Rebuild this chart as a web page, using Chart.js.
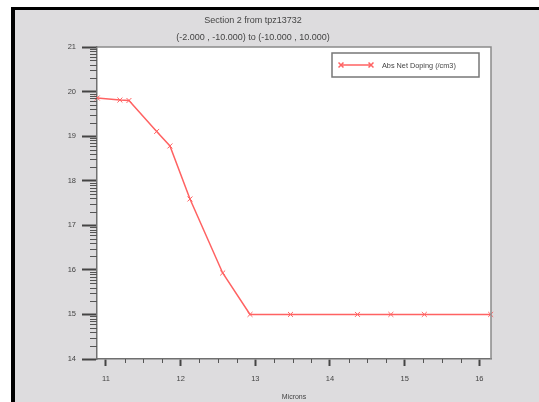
<!DOCTYPE html>
<html lang="en">
<head>
<meta charset="UTF-8">
<title>Section 2 from tpz13732</title>
<script src="https://cdn.jsdelivr.net/npm/chart.js"></script>
<style>
    body {
        margin: 0;
        background: #fff;
    }

    #frame {
        position: absolute;
        left: 11px;
        top: 7px;
        width: 524px;
        height: 392px;
        border-left: 4px solid #000;
        border-top: 3px solid #000;
        background: #dddcde;
    }

    canvas {
        display: block;
    }
</style>
</head>
<body>
<div id="frame"><canvas id="dopingChart" width="524" height="392"></canvas></div>

<script>
    // cut line position (microns) and log10 of |net doping|
    const microns = [10.883, 11.187, 11.308, 11.679, 11.857, 12.125, 12.563, 12.929, 13.471, 14.368, 14.815, 15.263, 16.152];
    const logDoping = [19.856, 19.81, 19.80, 19.106, 18.78, 17.59, 15.93, 15.0, 15.0, 15.0, 15.0, 15.0, 15.0];

    const xTicks = [11, 12, 13, 14, 15, 16];
    const xMinorSteps = [0.25, 0.5, 0.75];
    const yTicks = [14, 15, 16, 17, 18, 19, 20, 21];
    const yMinorSteps = [2, 3, 4, 5, 6, 7, 8, 9]; // log decade subdivisions

    const seriesLabel = 'Abs Net Doping (/cm3)';
    const FONT = "'Liberation Sans', Arial, sans-serif";
    const TEXT = '#444';
    const RED = '#ff6262';

    // white plot area + grey top/right edge
    const plotFrame = {
        id: 'plotFrame',
        beforeDraw(chart) {
            const { ctx, chartArea: a } = chart;
            ctx.save();
            ctx.fillStyle = '#fff';
            ctx.fillRect(a.left, a.top, a.right - a.left, a.bottom - a.top);
            ctx.restore();
        },
        afterDraw(chart) {
            const { ctx, chartArea: a } = chart;
            ctx.save();
            ctx.strokeStyle = '#8a8a8a';
            ctx.lineWidth = 1.5;
            ctx.beginPath();
            ctx.moveTo(a.left, a.top);
            ctx.lineTo(a.right, a.top);
            ctx.lineTo(a.right, a.bottom);
            ctx.stroke();
            ctx.restore();
        }
    };

    // short minor tick marks on both axes
    const minorTicks = {
        id: 'minorTicks',
        afterDraw(chart) {
            const { ctx, chartArea: a } = chart;
            const xs = chart.scales.x, ys = chart.scales.y;
            ctx.save();
            ctx.strokeStyle = '#555';
            ctx.lineWidth = 1;
            ctx.beginPath();
            xTicks.forEach(t => {
                xMinorSteps.forEach(s => {
                    const v = t + s;
                    if (v > xs.max) return;
                    const px = Math.round(xs.getPixelForValue(v)) + 0.5;
                    ctx.moveTo(px, a.bottom);
                    ctx.lineTo(px, a.bottom + 4);
                });
            });
            yTicks.slice(0, -1).forEach(t => {
                yMinorSteps.forEach(k => {
                    const py = Math.round(ys.getPixelForValue(t + Math.log10(k))) + 0.5;
                    ctx.moveTo(a.left - 7, py);
                    ctx.lineTo(a.left, py);
                });
            });
            ctx.stroke();
            ctx.restore();
        }
    };

    // boxed legend in the top right corner of the plot
    const boxLegend = {
        id: 'boxLegend',
        afterDraw(chart) {
            const { ctx, chartArea: a } = chart;
            const ds = chart.data.datasets[0];
            const w = 147, h = 24;
            const x0 = a.right - 12 - w, y0 = a.top + 6;
            const cy = y0 + h / 2;
            ctx.save();
            ctx.fillStyle = '#fff';
            ctx.fillRect(x0, y0, w, h);
            ctx.strokeStyle = '#777';
            ctx.lineWidth = 1.5;
            ctx.strokeRect(x0, y0, w, h);

            ctx.strokeStyle = ds.borderColor;
            ctx.lineWidth = ds.borderWidth;
            ctx.beginPath();
            ctx.moveTo(x0 + 9, cy);
            ctx.lineTo(x0 + 39, cy);
            ctx.stroke();
            [x0 + 9, x0 + 39].forEach(px => {
                Chart.helpers.drawPoint(ctx, {
                    pointStyle: ds.pointStyle,
                    radius: ds.pointRadius,
                    borderWidth: ds.pointBorderWidth,
                    rotation: 0
                }, px, cy);
            });

            ctx.fillStyle = TEXT;
            ctx.font = '7.3px ' + FONT;
            ctx.textBaseline = 'middle';
            ctx.fillText(ds.label, x0 + 50, cy + 0.5);
            ctx.restore();
        }
    };

    const ctx = document.getElementById('dopingChart').getContext('2d');

    new Chart(ctx, {
        type: 'scatter',
        data: {
            datasets: [{
                label: seriesLabel,
                data: microns.map((m, i) => ({ x: m, y: logDoping[i] })),
                showLine: true,
                borderColor: RED,
                borderWidth: 1.5,
                pointStyle: 'crossRot',
                pointRadius: 3.5,
                pointBorderColor: RED,
                pointBorderWidth: 1,
                pointBackgroundColor: RED,
                clip: false
            }]
        },
        options: {
            responsive: false,
            animation: false,
            layout: { padding: { left: 0, right: 48, top: 0, bottom: 0 } },
            plugins: {
                legend: { display: false },
                tooltip: { enabled: false },
                title: {
                    display: true,
                    text: 'Section 2 from tpz13732',
                    color: TEXT,
                    font: { family: FONT, size: 9, weight: 'normal' },
                    padding: { top: 5.6, bottom: 3 }
                },
                subtitle: {
                    display: true,
                    text: '(-2.000 , -10.000) to (-10.000 , 10.000)',
                    color: TEXT,
                    font: { family: FONT, size: 9 },
                    padding: { top: 3.2, bottom: 3.6 }
                }
            },
            scales: {
                x: {
                    type: 'linear',
                    min: 10.88,
                    max: 16.156,
                    afterBuildTicks: scale => { scale.ticks = xTicks.map(v => ({ value: v })); },
                    afterFit: scale => { scale.height = 43; },
                    grid: {
                        drawOnChartArea: false,
                        drawTicks: true,
                        tickLength: 7,
                        tickColor: '#444',
                        tickWidth: 2
                    },
                    border: { display: true, color: '#707070', width: 1.5 },
                    ticks: {
                        color: TEXT,
                        padding: 8,
                        maxRotation: 0,
                        font: { family: FONT, size: 7.5 },
                        callback: v => String(v)
                    },
                    title: {
                        display: true,
                        text: 'Microns',
                        color: TEXT,
                        font: { family: FONT, size: 7 },
                        padding: { top: 0, bottom: 0.5 }
                    }
                },
                y: {
                    type: 'linear',
                    min: 14,
                    max: 21,
                    afterBuildTicks: scale => { scale.ticks = yTicks.map(v => ({ value: v })); },
                    afterFit: scale => { scale.width = 82; },
                    grid: {
                        drawOnChartArea: false,
                        drawTicks: true,
                        tickLength: 15,
                        tickColor: '#444',
                        tickWidth: 2
                    },
                    border: { display: true, color: '#707070', width: 1.5 },
                    ticks: {
                        color: TEXT,
                        padding: 6,
                        font: { family: FONT, size: 7.5 },
                        callback: v => String(v)
                    }
                }
            }
        },
        plugins: [plotFrame, minorTicks, boxLegend]
    });
</script>
</body>
</html>
